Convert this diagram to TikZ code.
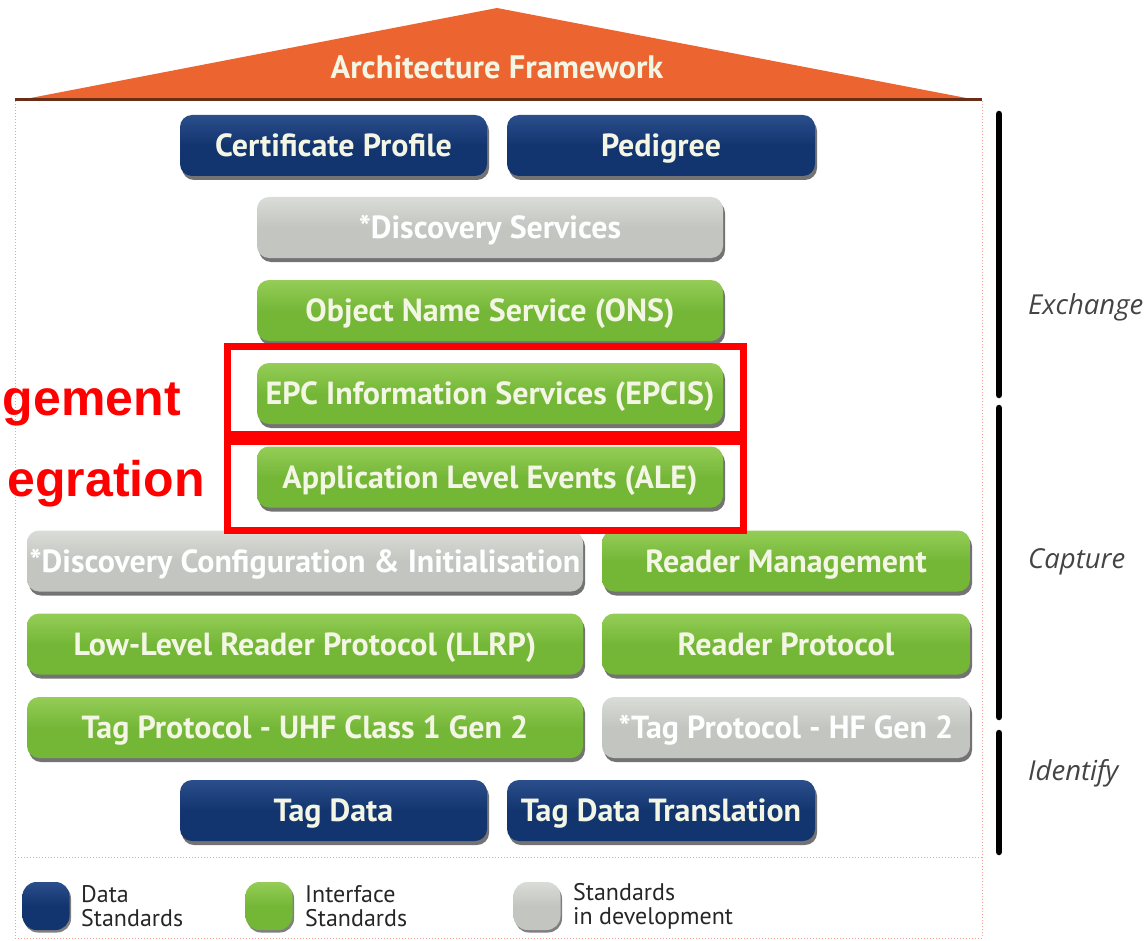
\documentclass[tikz,border=0pt]{standalone}
\usepackage{fontspec}
\setmainfont{PT Sans}
\newfontfamily\boxfont{PT Sans}
\newfontfamily\labfont{Open Sans}
\newfontfamily\redfont{Liberation Sans}
\usetikzlibrary{shadows}
\definecolor{dblue}{HTML}{12346F}
\definecolor{dbluetop}{HTML}{2B4F8C}
\definecolor{gr}{HTML}{74B737}
\definecolor{grtop}{HTML}{95CD57}
\definecolor{gy}{HTML}{C3C5C0}
\definecolor{gytop}{HTML}{DADCD7}
\definecolor{roof}{HTML}{EC6531}
\definecolor{dotc}{HTML}{EFA090}
\definecolor{txt}{HTML}{F3F6E4}
\definecolor{labc}{HTML}{444444}
\tikzset{
  stdbox/.style={rounded corners=12pt, inner sep=0pt, minimum height=61pt,
    text height=23pt, text depth=1pt,
    text=txt, font=\boxfont\bfseries\fontsize{32}{34}\selectfont,
    drop shadow={shadow xshift=2pt, shadow yshift=-4pt, fill=black, opacity=.55}},
  databox/.style={stdbox, top color=dbluetop, bottom color=dblue, middle color=dblue},
  ifbox/.style={stdbox, top color=grtop, bottom color=gr, middle color=gr},
  devbox/.style={stdbox, top color=gytop, bottom color=gy, middle color=gy, text=white},
  redframe/.style={draw=red, line width=7pt, inner sep=0pt},
  redlabel/.style={text=red, font=\redfont\bfseries\fontsize{50}{55}\selectfont, inner sep=0pt},
  layerbar/.style={line width=6.5pt, line cap=round, black},
  layerlabel/.style={anchor=west, text=labc, inner sep=0pt, font=\labfont\itshape\fontsize{27.5}{30}\selectfont},
  legicon/.style={rounded corners=14pt, minimum width=47pt, minimum height=48pt, inner sep=0pt,
    drop shadow={shadow xshift=1.5pt, shadow yshift=-2.5pt, fill=black, opacity=.5}},
  legtext/.style={anchor=west, align=left, inner sep=0pt, text=black!85,
    font=\boxfont\fontsize{24}{24}\selectfont},
  dotline/.style={dotc, line width=1pt, dash pattern=on 1pt off 2pt}
}
\begin{document}
\begin{tikzpicture}[x=1pt,y=-1pt]
\useasboundingbox (0,0) rectangle (1147,941);
% outer dotted frame
\draw[dotline] (15,101) rectangle (982,938);
\draw[dotline] (15,857) -- (982,857);
% roof
\coordinate (rl) at (15,101);
\coordinate (ra) at (497,8);
\coordinate (rr) at (982,101);
\fill[roof] (rl) -- (ra) -- (rr) -- cycle;
\draw[line width=3pt, color=roof!45!black] (15,100) -- (982,100);
\node[text=txt, font=\boxfont\bfseries\fontsize{32.5}{34}\selectfont] (arch) at (497,67) {Architecture Framework};
% boxes
\node[databox, minimum width=307pt] (cert) at (333.5,145.5) {Certificate Profile};
\node[databox, minimum width=308pt] (ped) at (661,145.5) {Pedigree};
\node[devbox, minimum width=466pt] (ds) at (490,227.5) {*Discovery Services};
\node[ifbox, minimum width=466pt] (ons) at (490,310.5) {Object Name Service (ONS)};
\node[ifbox, minimum width=466pt] (epcis) at (490,393.5) {EPC Information Services (EPCIS)};
\node[ifbox, minimum width=466pt] (ale) at (490,477) {Application Level Events (ALE)};
\node[devbox, minimum width=556pt] (dci) at (305,561) {*Discovery Configuration \& Initialisation};
\node[ifbox, minimum width=368pt] (rm) at (786,561) {Reader Management};
\node[ifbox, minimum width=556pt] (llrp) at (305,644) {Low-Level Reader Protocol (LLRP)};
\node[ifbox, minimum width=368pt] (rp) at (786,644) {Reader Protocol};
\node[ifbox, minimum width=556pt] (uhf) at (305,727.5) {Tag Protocol - UHF Class 1 Gen 2};
\node[devbox, minimum width=368pt] (hf) at (786,727.5) {*Tag Protocol - HF Gen 2};
\node[databox, minimum width=307pt] (td) at (333.5,810.5) {Tag Data};
\node[databox, minimum width=308pt] (tdt) at (661,810.5) {Tag Data Translation};
% red highlight frames
\node[redframe, minimum width=516pt, minimum height=88pt] (f1) at (485,390) {};
\node[redframe, minimum width=516pt, minimum height=89pt] (f2) at (485,485.5) {};
\node[redlabel, anchor=base east] (mg) at (181,415) {gement};
\node[redlabel, anchor=base east] (ig) at (205,496) {egration};
% layer bars
\coordinate (b1t) at (999,114); \coordinate (b1b) at (999,395);
\coordinate (b2t) at (999,408); \coordinate (b2b) at (999,717);
\coordinate (b3t) at (999,733); \coordinate (b3b) at (999,852);
\draw[layerbar] (b1t) -- (b1b);
\draw[layerbar] (b2t) -- (b2b);
\draw[layerbar] (b3t) -- (b3b);
\node[layerlabel] (ex) at (1028,307) {Exchange};
\node[layerlabel] (ca) at (1028,562) {Capture};
\node[layerlabel] (id) at (1028,773) {Identify};
% legend
\node[legicon, top color=dbluetop, bottom color=dblue, middle color=dblue] (l1) at (46,906) {};
\node[legtext] (l1t) at (81,906) {Data\\Standards};
\node[legicon, top color=grtop, bottom color=gr, middle color=gr] (l2) at (269,906) {};
\node[legtext] (l2t) at (305,906) {Interface\\Standards};
\node[legicon, top color=gytop, bottom color=gy, middle color=gy] (l3) at (537,906) {};
\node[legtext] (l3t) at (573,906) {Standards\\in development};
\end{tikzpicture}
\end{document}
